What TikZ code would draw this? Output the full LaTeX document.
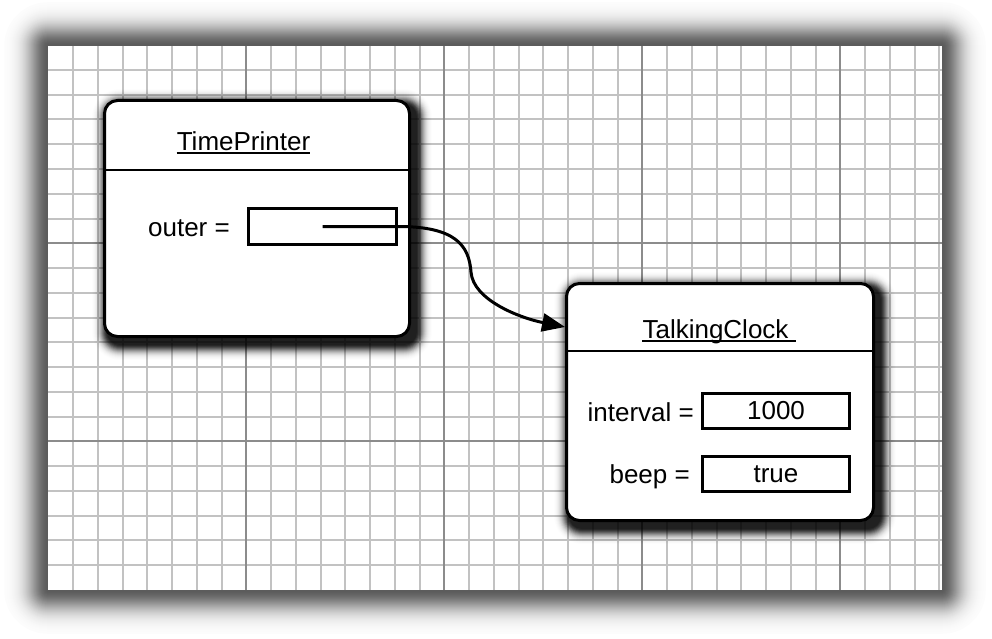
\documentclass[tikz,border=0pt]{standalone}
\usepackage{fontspec}
\setmainfont{Liberation Sans}
\usetikzlibrary{arrows.meta,backgrounds}
\begin{document}
\begin{tikzpicture}[x=1pt,y=-1pt,
  fine/.style={draw=black!24,line width=2pt},
  major/.style={draw=black!45,line width=2pt},
  objbox/.style={draw=black,line width=3pt,fill=white,rounded corners=13pt,inner sep=0pt},
  fieldbox/.style={draw=black,line width=3pt,fill=white,inner sep=0pt,minimum width=147pt,minimum height=35pt,font=\fontsize{26}{30}\selectfont},
  lbl/.style={inner sep=0pt,font=\fontsize{26}{30}\selectfont},
  ref/.style={line width=3pt,-{Triangle[length=23pt,width=18pt]}},
  uline/.style={line width=2pt}
]
\useasboundingbox (0,0) rectangle (992,639);

% objects
\node[objbox,minimum width=305pt,minimum height=236pt] (tp) at (257,218.5) {};
\coordinate (tpsep) at (257,170);
\draw[line width=2.5pt] (tp.west |- tpsep) -- (tp.east |- tpsep);
\node[lbl,anchor=base] (tpt) at (243.5,151) {TimePrinter};
\draw[uline] ([yshift=-2.5pt]tpt.base west) -- ([yshift=-2.5pt]tpt.base east);
\node[lbl,anchor=base east] (outer) at (230,236) {outer =};
\node[fieldbox,minimum width=148pt,minimum height=36pt] (tpf) at (322.5,226.5) {};

\node[objbox,minimum width=307pt,minimum height=237pt] (tc) at (720,402) {};
\coordinate (tcsep) at (720,351);
\draw[line width=2.5pt] (tc.west |- tcsep) -- (tc.east |- tcsep);
\node[lbl,anchor=base] (tct) at (715.5,338) {TalkingClock};
\draw[uline] ([yshift=-2.5pt]tct.base west) -- ([xshift=7pt,yshift=-2.5pt]tct.base east);
\node[fieldbox] (iv) at (776,410.5) {1000};
\node[fieldbox] (bp) at (776,474) {true};
\node[lbl,anchor=base east] (ivl) at (694,421) {interval =};
\node[lbl,anchor=base east] (bpl) at (690,483) {beep =};

% reference arrow
\coordinate (bend) at (471,272);
\draw[ref] (tpf.center) -- (tpf.east) .. controls +(57,0) and +(-2,-27) .. (bend)
  .. controls +(2,28) and +(-45,-9) .. ([yshift=75pt]tc.west);

\begin{pgfonlayer}{background}
% page shadow (opaque nested layers, gaussian falloff)
\foreach \d in {44,43,...,1} {
  \pgfmathsetmacro\g{64*exp(-(\d/21)^2)}
  \fill[black!\g,rounded corners=\d pt] (48-\d,46-\d) rectangle (942+\d,590+\d);
}
\fill[white] (48,46) rectangle (942,590);
% grid
\foreach \i in {-7,...,28}
  \draw[fine] ({246.25+24.75*\i},46) -- ({246.25+24.75*\i},590);
\foreach \j in {-7,...,13}
  \draw[fine] (48,{243.25+24.75*\j}) -- (942,{243.25+24.75*\j});
\foreach \i in {0,8,16,24}
  \draw[major] ({246.25+24.75*\i},46) -- ({246.25+24.75*\i},590);
\foreach \j in {0,8}
  \draw[major] (48,{243.25+24.75*\j}) -- (942,{243.25+24.75*\j});
% box shadows (translucent layers, gaussian falloff)
\foreach \b in {tp,tc}
  \foreach \e in {16,15,...,1} {
    \pgfmathsetmacro\a{1-(1-0.88*exp(-(\e/8)^2))/(1-0.88*exp(-((\e+1)/8)^2))}
    \pgfmathsetmacro\r{12+\e}
    \fill[black,opacity=\a,rounded corners=\r pt]
      ([shift={(5-\e,6-\e)}]\b.north west) rectangle ([shift={(5+\e,6+\e)}]\b.south east);
  }
\end{pgfonlayer}
\end{tikzpicture}
\end{document}
